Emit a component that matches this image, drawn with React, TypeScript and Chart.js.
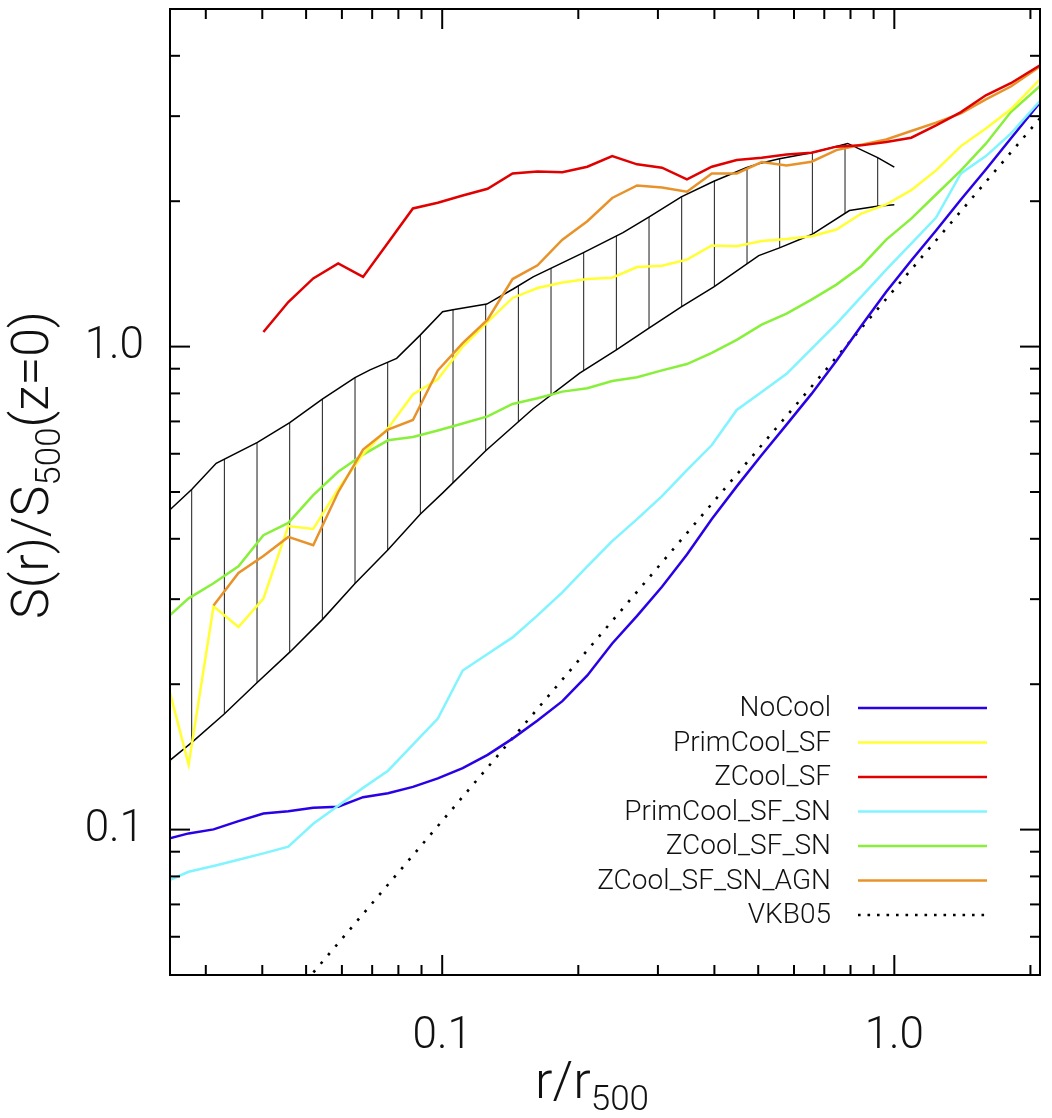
import React, { useEffect, useRef } from 'react';
import { Chart, registerables } from 'chart.js';

Chart.register(...registerables);

// r / r500 sampling of the simulation profiles
const radius = [0.02421, 0.02749, 0.03121, 0.03543, 0.04023, 0.04567, 0.05185, 0.05887, 0.06683, 0.07588, 0.08614, 0.09779, 0.1110, 0.1260, 0.1431, 0.1625, 0.1844, 0.2094, 0.2377, 0.2698, 0.3063, 0.3478, 0.3948, 0.4482, 0.5089, 0.5777, 0.6559, 0.7446, 0.8454, 0.9598, 1.090, 1.237, 1.404, 1.594, 1.810, 2.1];

const noCool = [0.0952, 0.0982, 0.1001, 0.1041, 0.1080, 0.1091, 0.1110, 0.1115, 0.1167, 0.1189, 0.1226, 0.1277, 0.1341, 0.1428, 0.1543, 0.1683, 0.1845, 0.2085, 0.2429, 0.2770, 0.3182, 0.3711, 0.4398, 0.5136, 0.5963, 0.6894, 0.7981, 0.9344, 1.105, 1.299, 1.507, 1.739, 2.016, 2.327, 2.698, 3.20];
const primCoolSF = [0.2157, 0.1363, 0.2899, 0.2626, 0.3008, 0.4251, 0.4193, 0.5069, 0.5991, 0.6776, 0.7961, 0.8561, 1.000, 1.125, 1.261, 1.322, 1.358, 1.380, 1.389, 1.461, 1.471, 1.514, 1.619, 1.613, 1.655, 1.671, 1.692, 1.747, 1.886, 1.969, 2.108, 2.316, 2.601, 2.827, 3.099, 3.577];
const zCoolSF = [null, null, null, null, 1.072, 1.237, 1.384, 1.487, 1.394, 1.641, 1.932, 1.985, 2.055, 2.122, 2.283, 2.305, 2.297, 2.357, 2.480, 2.384, 2.346, 2.219, 2.357, 2.433, 2.461, 2.500, 2.520, 2.594, 2.610, 2.651, 2.707, 2.871, 3.059, 3.314, 3.510, 3.824];
const primCoolSFSN = [0.0777, 0.0818, 0.0841, 0.0866, 0.0893, 0.0922, 0.1028, 0.1121, 0.1220, 0.1324, 0.1499, 0.1698, 0.2135, 0.2310, 0.2500, 0.2777, 0.3099, 0.3509, 0.3956, 0.4393, 0.4903, 0.5551, 0.6255, 0.7395, 0.8058, 0.8783, 0.9895, 1.115, 1.269, 1.443, 1.634, 1.850, 2.283, 2.480, 2.760, 3.225];
const zCoolSFSN = [0.2705, 0.3012, 0.3236, 0.3509, 0.4069, 0.4315, 0.4926, 0.5507, 0.5977, 0.6397, 0.6499, 0.6703, 0.6930, 0.7172, 0.7609, 0.7820, 0.8069, 0.8201, 0.8490, 0.8643, 0.8930, 0.9202, 0.9708, 1.033, 1.110, 1.170, 1.251, 1.344, 1.467, 1.665, 1.841, 2.065, 2.316, 2.631, 3.059, 3.464];
const zCoolSFSNAGN = [null, null, 0.2912, 0.3399, 0.3686, 0.4036, 0.3880, 0.4995, 0.6122, 0.6736, 0.7049, 0.8929, 1.017, 1.137, 1.380, 1.473, 1.665, 1.818, 2.031, 2.156, 2.136, 2.092, 2.283, 2.283, 2.410, 2.372, 2.414, 2.552, 2.618, 2.685, 2.795, 2.909, 3.041, 3.251, 3.455, 3.80];

// VKB05 baseline
const vkbRadius = [0.05, 0.5, 2.1];
const vkbEntropy = [0.0486, 0.613, 2.97];

// observed band (hatched)
const bandUpperR = [0.02503, 0.02795, 0.03163, 0.03903, 0.04601, 0.05430, 0.06413, 0.06925, 0.07930, 0.08928, 0.1002, 0.1056, 0.1255, 0.1435, 0.1589, 0.2048, 0.2511, 0.2876, 0.3379, 0.3989, 0.4703, 0.5031, 0.5571, 0.6568, 0.7886, 0.9187, 1.000];
const bandUpperS = [0.4601, 0.5064, 0.5733, 0.6335, 0.6959, 0.7783, 0.8627, 0.8951, 0.9456, 1.055, 1.181, 1.192, 1.225, 1.316, 1.394, 1.563, 1.722, 1.859, 2.042, 2.200, 2.346, 2.394, 2.449, 2.520, 2.634, 2.461, 2.353];
const bandLowerR = [0.02503, 0.02795, 0.0330, 0.03903, 0.04601, 0.05430, 0.06413, 0.0757, 0.0894, 0.1004, 0.1248, 0.1586, 0.2014, 0.2428, 0.2866, 0.3379, 0.3989, 0.5013, 0.5571, 0.6568, 0.7955, 0.9158, 1.000];
const bandLowerS = [0.1393, 0.1516, 0.1737, 0.2019, 0.2330, 0.2721, 0.3231, 0.3789, 0.4498, 0.4985, 0.6087, 0.7428, 0.8811, 0.9849, 1.092, 1.208, 1.329, 1.543, 1.601, 1.706, 1.913, 1.953, 1.966];

// ticks
const xLabelTicks = [0.1, 1.0];
const yLabelTicks = [0.1, 1.0];
const xMinorTicks = [0.03, 0.04, 0.05, 0.06, 0.07, 0.08, 0.09, 0.2, 0.3, 0.4, 0.5, 0.6, 0.7, 0.8, 0.9, 2.0];
const yMinorTicks = [0.06, 0.07, 0.08, 0.09, 0.2, 0.3, 0.4, 0.5, 0.6, 0.7, 0.8, 0.9, 2, 3, 4];

const legendLabels = ['NoCool', 'PrimCool_SF', 'ZCool_SF', 'PrimCool_SF_SN', 'ZCool_SF_SN', 'ZCool_SF_SN_AGN', 'VKB05'];
const legendColors = ['#2a00e6', '#ffff33', '#e00000', '#80f4ff', '#88f03a', '#e8922a', '#000000'];

const FONT = 'Roboto, "Liberation Sans", sans-serif';

function pts(xs: number[], ys: (number | null)[]) {
  return xs.map((x, i) => ({ x, y: ys[i] })).filter((p) => p.y !== null) as { x: number; y: number }[];
}

function drawRich(ctx: CanvasRenderingContext2D, parts: { t: string; sub?: boolean }[], cx: number, by: number, size: number) {
  const subSize = Math.round(size * 0.68);
  let total = 0;
  for (const p of parts) {
    ctx.font = `300 ${p.sub ? subSize : size}px ${FONT}`;
    total += ctx.measureText(p.t).width;
  }
  let x = cx - total / 2;
  ctx.textAlign = 'left';
  ctx.textBaseline = 'alphabetic';
  for (const p of parts) {
    ctx.font = `300 ${p.sub ? subSize : size}px ${FONT}`;
    ctx.fillText(p.t, x, p.sub ? by + size * 0.24 : by);
    x += ctx.measureText(p.t).width;
  }
}

export default function App() {
  const ref = useRef<HTMLCanvasElement>(null);

  useEffect(() => {
    document.body.style.margin = '0';
    const canvas = ref.current!;
    const ctx = canvas.getContext('2d')!;

    const pc = document.createElement('canvas');
    pc.width = 98;
    pc.height = 8;
    const p = pc.getContext('2d')!;
    p.strokeStyle = '#1a1a1a';
    p.lineWidth = 1;
    [28.37, 61.03, 93.7].forEach((o) => {
      p.beginPath();
      p.moveTo(o, 0);
      p.lineTo(o, 8);
      p.stroke();
    });
    const hatch = ctx.createPattern(pc, 'repeat')!;

    const decorations = {
      id: 'decorations',
      afterDraw(chart: any) {
        const c = chart.ctx as CanvasRenderingContext2D;
        const a = chart.chartArea;
        const xs = chart.scales.x;
        const ys = chart.scales.y;
        c.save();
        c.strokeStyle = '#000';
        c.lineWidth = 2;
        c.lineCap = 'butt';
        const seg = (x1: number, y1: number, x2: number, y2: number) => {
          c.beginPath();
          c.moveTo(x1, y1);
          c.lineTo(x2, y2);
          c.stroke();
        };
        const xt = (v: number, len: number) => {
          const px = xs.getPixelForValue(v);
          seg(px, a.bottom, px, a.bottom - len);
          seg(px, a.top, px, a.top + len);
        };
        const yt = (v: number, len: number) => {
          const py = ys.getPixelForValue(v);
          seg(a.left, py, a.left + len, py);
          seg(a.right, py, a.right - len, py);
        };
        xMinorTicks.forEach((v) => xt(v, 10));
        xLabelTicks.forEach((v) => xt(v, 20));
        yMinorTicks.forEach((v) => yt(v, 10));
        yLabelTicks.forEach((v) => yt(v, 20));
        c.strokeRect(a.left, a.top, a.right - a.left, a.bottom - a.top);

        // legend
        c.font = `300 28px ${FONT}`;
        c.fillStyle = '#111';
        c.textAlign = 'right';
        c.textBaseline = 'middle';
        legendLabels.forEach((lab, i) => {
          const yy = 708 + i * 34.5;
          c.fillText(lab, 831, yy + 1);
          c.beginPath();
          c.strokeStyle = legendColors[i];
          if (i === legendLabels.length - 1) {
            c.lineWidth = 2.6;
            c.setLineDash([2.6, 6.9]);
          } else {
            c.lineWidth = 2.5;
            c.setLineDash([]);
          }
          c.moveTo(858, yy);
          c.lineTo(987, yy);
          c.stroke();
        });
        c.setLineDash([]);

        // axis titles
        c.fillStyle = '#111';
        drawRich(c, [{ t: 'r/r' }, { t: '500', sub: true }], 592, 1098, 52);
        c.save();
        c.translate(48, 465);
        c.rotate(-Math.PI / 2);
        drawRich(c, [{ t: 'S(r)/S' }, { t: '500', sub: true }, { t: '(z=0)' }], 0, 0, 52);
        c.restore();
        c.restore();
      },
    };

    const line = (label: string, data: any[], color: string, order: number, extra: any = {}) => ({
      type: 'line',
      label,
      data,
      borderColor: color,
      backgroundColor: color,
      borderWidth: 2.5,
      pointRadius: 0,
      tension: 0,
      fill: false,
      order,
      ...extra,
    });

    const zeroPad = (s: any) => {
      s.paddingTop = 0;
      s.paddingBottom = 0;
      s.paddingLeft = 0;
      s.paddingRight = 0;
    };

    const chart = new Chart(canvas, {
      type: 'line',
      data: {
        datasets: [
          line('bandUpper', pts(bandUpperR, bandUpperS), '#000', 20, { borderWidth: 1.5, fill: '+1', backgroundColor: hatch }),
          line('bandLower', pts(bandLowerR, bandLowerS), '#000', 19, { borderWidth: 1.5 }),
          line('VKB05', pts(vkbRadius, vkbEntropy), '#000', 9, { borderWidth: 2.6, borderDash: [2.6, 8.7] }),
          line('NoCool', pts(radius, noCool), legendColors[0], 8),
          line('PrimCool_SF_SN', pts(radius, primCoolSFSN), legendColors[3], 7),
          line('ZCool_SF_SN', pts(radius, zCoolSFSN), legendColors[4], 6),
          line('PrimCool_SF', pts(radius, primCoolSF), legendColors[1], 5),
          line('ZCool_SF_SN_AGN', pts(radius, zCoolSFSNAGN), legendColors[5], 4),
          line('ZCool_SF', pts(radius, zCoolSF), legendColors[2], 3),
        ] as any,
      },
      options: {
        responsive: false,
        animation: false,
        layout: { padding: { left: 0, right: 12, top: 9, bottom: 0 } },
        plugins: { legend: { display: false }, tooltip: { enabled: false }, title: { display: false } },
        scales: {
          x: {
            type: 'logarithmic',
            position: 'bottom',
            min: 0.025,
            max: 2.1,
            grid: { display: false },
            border: { display: false },
            afterBuildTicks: (s: any) => {
              s.ticks = xLabelTicks.map((v) => ({ value: v }));
            },
            afterFit: (s: any) => {
              s.height = 143;
              zeroPad(s);
            },
            ticks: {
              autoSkip: false,
              maxRotation: 0,
              padding: 28,
              color: '#111',
              font: { family: FONT, size: 44, weight: '300' as any },
              callback: (v: any) => Number(v).toFixed(1),
            },
          },
          y: {
            type: 'logarithmic',
            position: 'left',
            min: 0.05,
            max: 5,
            grid: { display: false },
            border: { display: false },
            afterBuildTicks: (s: any) => {
              s.ticks = yLabelTicks.map((v) => ({ value: v }));
            },
            afterFit: (s: any) => {
              s.width = 170;
              zeroPad(s);
            },
            ticks: {
              autoSkip: false,
              padding: 18,
              color: '#111',
              font: { family: FONT, size: 44, weight: '300' as any },
              callback: (v: any) => Number(v).toFixed(1),
            },
          },
        },
      },
      plugins: [decorations],
    } as any);

    return () => chart.destroy();
  }, []);

  return (
    <div style={{ width: 1052, height: 1118, overflow: 'hidden' }}>
      <canvas ref={ref} width={1052} height={1118} style={{ display: 'block' }} />
    </div>
  );
}
